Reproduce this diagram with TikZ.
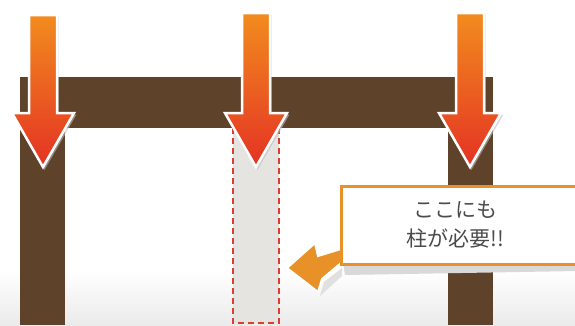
\documentclass[tikz,border=0pt]{standalone}
\usepackage{fontspec}
\newfontfamily\jpfont{Noto Sans CJK JP}
\usetikzlibrary{shadows}
\definecolor{wood}{RGB}{95,66,42}
\definecolor{arrtop}{RGB}{242,140,30}
\definecolor{arrbot}{RGB}{228,50,36}
\definecolor{callorange}{RGB}{232,145,40}
\definecolor{dashred}{RGB}{220,60,50}
\definecolor{ghost}{RGB}{230,228,224}
\definecolor{txtgray}{RGB}{75,75,75}
\tikzset{
  woodpart/.style={fill=wood, draw=none},
  downarrow/.style={top color=arrtop, bottom color=arrbot, draw=white, line width=2.5pt, line join=miter},
  arrshadow/.style={fill=black!25, draw=none, opacity=0.6},
  ghostline/.style={draw=dashred, line width=1.6pt, dash pattern=on 6pt off 4pt},
}
\newcommand{\downarr}[4]{% center x, top y, head base y, tip y
  \fill[arrshadow] ({#1-14+1.5},{#2+1.5}) -- ({#1+14+1.5},{#2+1.5}) -- ({#1+14+1.5},{#3+1.5}) -- ({#1+32+1.5},{#3+1.5}) -- ({#1+1.5},{#4+3}) -- ({#1-32+1.5},{#3+1.5}) -- ({#1-14+1.5},{#3+1.5}) -- cycle;
  \shade[downarrow] ({#1-14},#2) -- ({#1+14},#2) -- ({#1+14},#3) -- ({#1+31},#3) -- (#1,#4) -- ({#1-31},#3) -- ({#1-14},#3) -- cycle;
}
\begin{document}
\begin{tikzpicture}[x=1pt,y=-1pt]
\useasboundingbox (0,0) rectangle (575,325);
% background
\fill[white] (0,0) rectangle (575,325);
\shade[top color=white, bottom color=black!8] (0,270) rectangle (575,325);
% posts and beam
\fill[woodpart] (20,77) rectangle (493,128);
\fill[woodpart] (20,128) rectangle (65,325);
\fill[woodpart] (448,128) rectangle (493,325);
% missing post
\fill[ghost] (233,128) rectangle (279,323);
\draw[ghostline] (233,128) -- (233,323) -- (279,323) -- (279,128);
% arrows
\downarr{43}{15}{113}{167}
\downarr{256}{13}{113}{167}
\downarr{470}{13}{113}{167}
% callout shadow
\fill[black!15] (343,262) -- (578,262) -- (578,271) -- (345,275) -- cycle;
% callout arrow
\fill[black!12] (320,296) -- (324,282) -- (342,268) -- (342,276) -- cycle;
\fill[callorange, draw=white, line width=2pt, line join=miter]
  (287,268) -- (315,243) -- (318,256) -- (341,249) -- (341,263) -- (322,279) -- (318,292) -- cycle;
% callout box
\node[draw=callorange, fill=white, line width=2.5pt, minimum width=240pt, minimum height=78pt, anchor=north west, inner sep=0pt] (box) at (340,185) {};
\node[text=txtgray, font=\jpfont\fontsize{21}{29}\selectfont, align=center] (label) at (455,225) {ここにも\\柱が必要!!};
\end{tikzpicture}
\end{document}
